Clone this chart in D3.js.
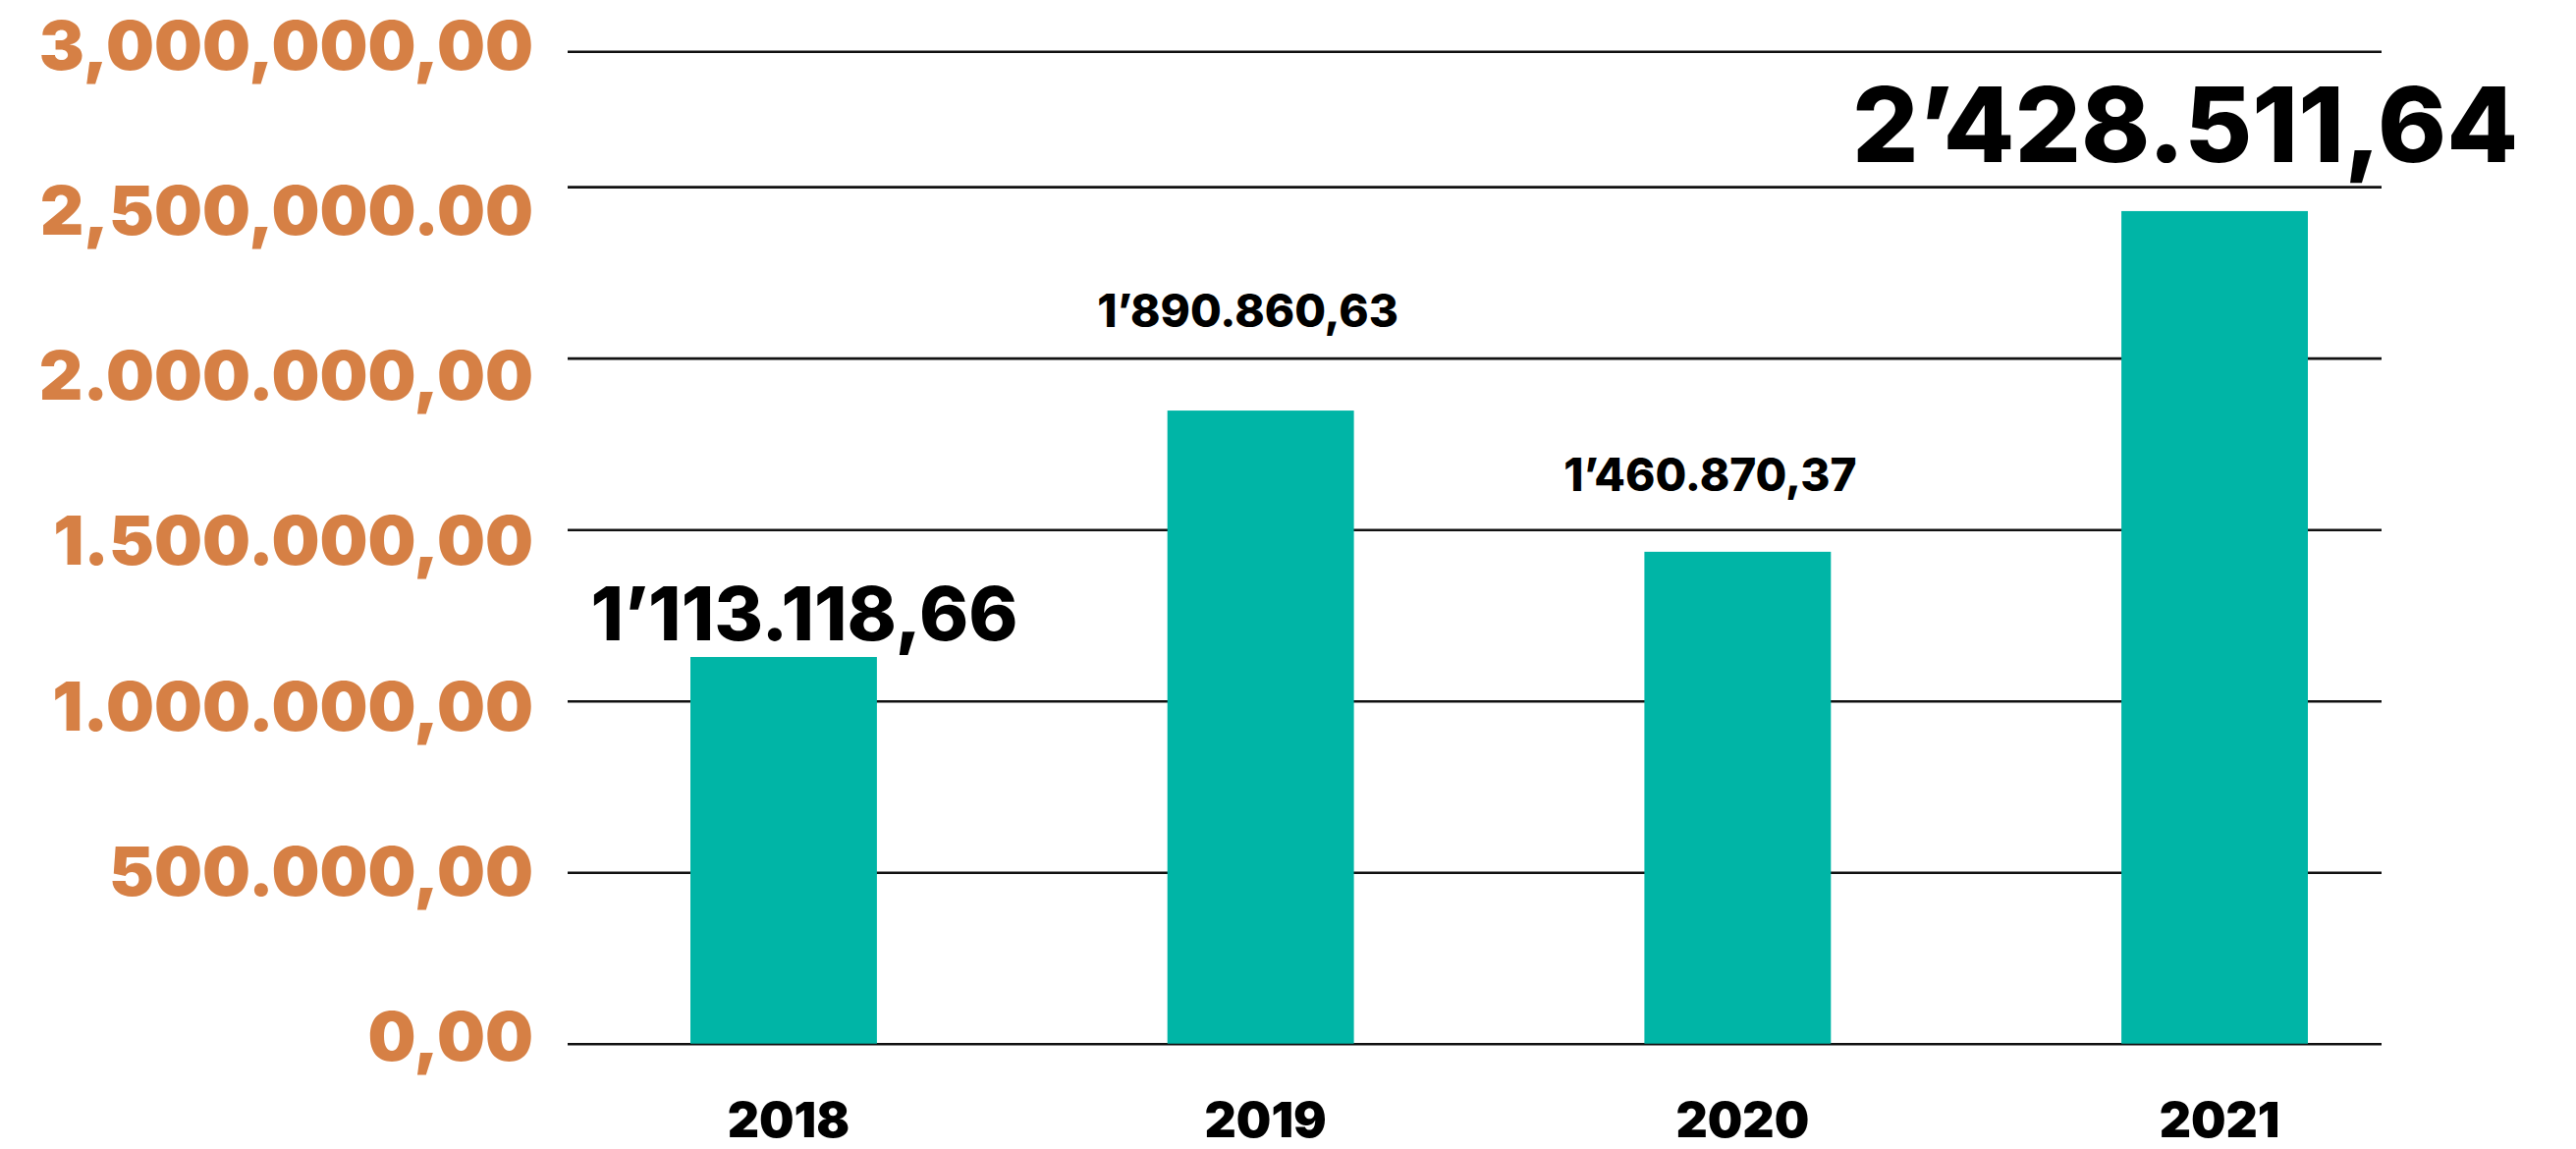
<!DOCTYPE html>
<html>
<head>
<meta charset="utf-8">
<script src="https://cdn.jsdelivr.net/npm/d3@7"></script>
<style>
body{margin:0;background:#fff;}
svg{display:block;}
</style>
</head>
<body>
<svg class="chart"></svg>
<script>
// ----------DATA--------------------
var years = ['2018','2019','2020','2021'];
var values = [1128000, 1847000, 1435000, 2429000];
var valueLabels = ['1’113.118,66','1’890.860,63','1’460.870,37','2’428.511,64'];
var gridValues = [0, 500000, 1000000, 1500000, 2000000, 2500000, 2895000];
var tickLabels = ['0,00','500.000,00','1.000.000,00','1.500.000,00','2.000.000,00','2,500,000.00','3,000,000,00'];

// ----------LAYOUT--------------------
var width = 2623,
height = 1170;

var gridLeft = 578,
gridRight = 2425;

// label styles per bar (size, shift from centre, gap above bar)
var labelSize = [76, 46, 46, 106];
var labelDx = [21, -13, -28, -30];
var labelGap = [17, 85, 62, 50];

var svg = d3.select('.chart')
.attr('width', width)
.attr('height', height);

var xScale = d3.scaleBand()
.domain(years)
.range([703, 2350])
.paddingInner(0.609)
.paddingOuter(0);

var yScale = d3.scaleLinear()
.domain([0, gridValues[gridValues.length-1]])
.range([1062.7, 52.3]);

// tick labels sit on their own evenly spaced rows
var labelScale = d3.scaleLinear()
.domain([0, tickLabels.length-1])
.range([1080, 70.7]);

// gridlines
var yAxis = svg.append('g')
.attr('transform','translate('+gridRight+',0)')
.call(d3.axisRight(yScale).tickValues(gridValues).tickSize(-(gridRight-gridLeft)).tickFormat(''));

yAxis.select('.domain').remove();
yAxis.selectAll('.tick line')
.attr('stroke','#111')
.attr('stroke-width',2.6);

// y labels
svg.append('g')
.selectAll('text')
.data(tickLabels)
.enter()
.append('text')
.text((d)=>d)
.attr('x', 543)
.attr('y', (d,i)=>labelScale(i))
.attr('text-anchor','end')
.style('font-family','Inter, "Open Sans", sans-serif')
.style('font-weight', 900)
.style('font-size','69px')
.attr('fill','#D68045');

// bars
svg.append('g')
.selectAll('rect')
.data(values)
.enter()
.append('rect')
.attr('x', (d,i)=>xScale(years[i]))
.attr('y', (d)=>yScale(d))
.attr('width', xScale.bandwidth())
.attr('height', (d)=>yScale(0)-yScale(d))
.attr('fill','#00B5A6');

// value labels
svg.append('g')
.selectAll('text')
.data(values)
.enter()
.append('text')
.text((d,i)=>valueLabels[i])
.attr('x', (d,i)=>xScale(years[i]) + xScale.bandwidth()/2 + labelDx[i])
.attr('y', (d,i)=>yScale(d) - labelGap[i])
.attr('text-anchor','middle')
.style('font-family','Inter, "Open Sans", sans-serif')
.style('font-weight', 800)
.style('font-size', (d,i)=>labelSize[i]+'px')
.attr('fill','#000');

// year labels
svg.append('g')
.selectAll('text')
.data(years)
.enter()
.append('text')
.text((d)=>d)
.attr('x', (d)=>xScale(d) + xScale.bandwidth()/2 + 5)
.attr('y', 1158)
.attr('text-anchor','middle')
.style('font-family','Inter, "Open Sans", sans-serif')
.style('font-weight', 900)
.style('font-size','50px')
.attr('fill','#000');
</script>
</body>
</html>
